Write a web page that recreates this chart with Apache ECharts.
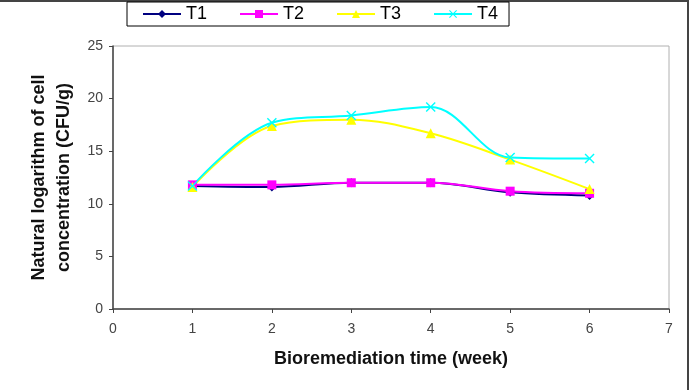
<!DOCTYPE html>
<html>
<head>
<meta charset="utf-8">
<script src="https://cdn.jsdelivr.net/npm/echarts@6/dist/echarts.min.js"></script>
<style>
  html, body { margin: 0; padding: 0; background: #fff; }
  #main { width: 691px; height: 390px; }
</style>
</head>
<body>
<div id="main"></div>
<script>
// weeks and measured values (ln CFU/g)
var weeks = [1, 2, 3, 4, 5, 6];
var t1 = [11.7, 11.6, 12.0, 12.0, 11.1, 10.8];
var t2 = [11.8, 11.8, 12.0, 12.0, 11.2, 11.0];
var t3 = [11.6, 17.4, 18.0, 16.7, 14.2, 11.4];
var t4 = [11.7, 17.7, 18.4, 19.2, 14.4, 14.3];
var seriesNames = ['T1', 'T2', 'T3', 'T4'];

// x-shaped marker for T4
var crossPath = 'path://M0,1L1,0L5,4L9,0L10,1L6,5L10,9L9,10L5,6L1,10L0,9L4,5Z';

function pairs(ys) {
  return weeks.map(function (w, i) { return [w, ys[i]]; });
}

function makeSeries(name, ys, color, symbol, size) {
  return {
    name: name,
    type: 'line',
    smooth: 0.35,
    data: pairs(ys),
    symbol: symbol,
    symbolSize: size,
    lineStyle: { color: color, width: 2 },
    itemStyle: { color: color },
    emphasis: { disabled: true }
  };
}

var chart = echarts.init(document.getElementById('main'));
var option = {
  animation: false,
  textStyle: { fontFamily: 'Liberation Sans, Arial, sans-serif' },
  legend: {
    data: seriesNames,
    left: 127,
    top: 2,
    padding: [3, 11, 3, 15],
    itemGap: 32,
    itemWidth: 38,
    itemHeight: 10,
    borderColor: '#000',
    borderWidth: 1,
    borderRadius: 0,
    textStyle: { fontSize: 18, color: '#000' }
  },
  grid: {
    left: 113, top: 46, right: 22, bottom: 81,
    show: true, borderColor: '#b0b0b0', borderWidth: 1
  },
  xAxis: {
    type: 'value', min: 0, max: 7, interval: 1,
    name: 'Bioremediation time (week)',
    nameLocation: 'middle', nameGap: 41,
    nameTextStyle: { fontSize: 18, fontWeight: 'bold', color: '#111' },
    axisLine: { lineStyle: { color: '#444', width: 1.5 } },
    axisTick: { show: true, length: 4, lineStyle: { color: '#444' } },
    axisLabel: { fontSize: 14, color: '#444', margin: 13 },
    splitLine: { show: false }
  },
  yAxis: {
    type: 'value', min: 0, max: 25, interval: 5,
    name: 'Natural logarithm of cell\nconcentration (CFU/g)',
    nameLocation: 'middle', nameGap: 36,
    nameTextStyle: { fontSize: 18, fontWeight: 'bold', color: '#111', lineHeight: 25 },
    axisLine: { show: true, lineStyle: { color: '#444', width: 1.5 } },
    axisTick: { show: true, length: 4, lineStyle: { color: '#444' } },
    axisLabel: { fontSize: 14, color: '#444', margin: 10 },
    splitLine: { show: false }
  },
  graphic: [
    { type: 'line', shape: { x1: 0, y1: 1, x2: 688, y2: 1 }, style: { stroke: '#444', lineWidth: 2 } },
    { type: 'line', shape: { x1: 688, y1: 0, x2: 688, y2: 390 }, style: { stroke: '#444', lineWidth: 2 } }
  ],
  series: [
    makeSeries('T1', t1, '#000080', 'diamond', 9),
    makeSeries('T2', t2, '#ff00ff', 'rect', 9),
    makeSeries('T3', t3, '#ffff00', 'triangle', 10),
    makeSeries('T4', t4, '#00ffff', crossPath, 10)
  ]
};
chart.setOption(option);
</script>
</body>
</html>
